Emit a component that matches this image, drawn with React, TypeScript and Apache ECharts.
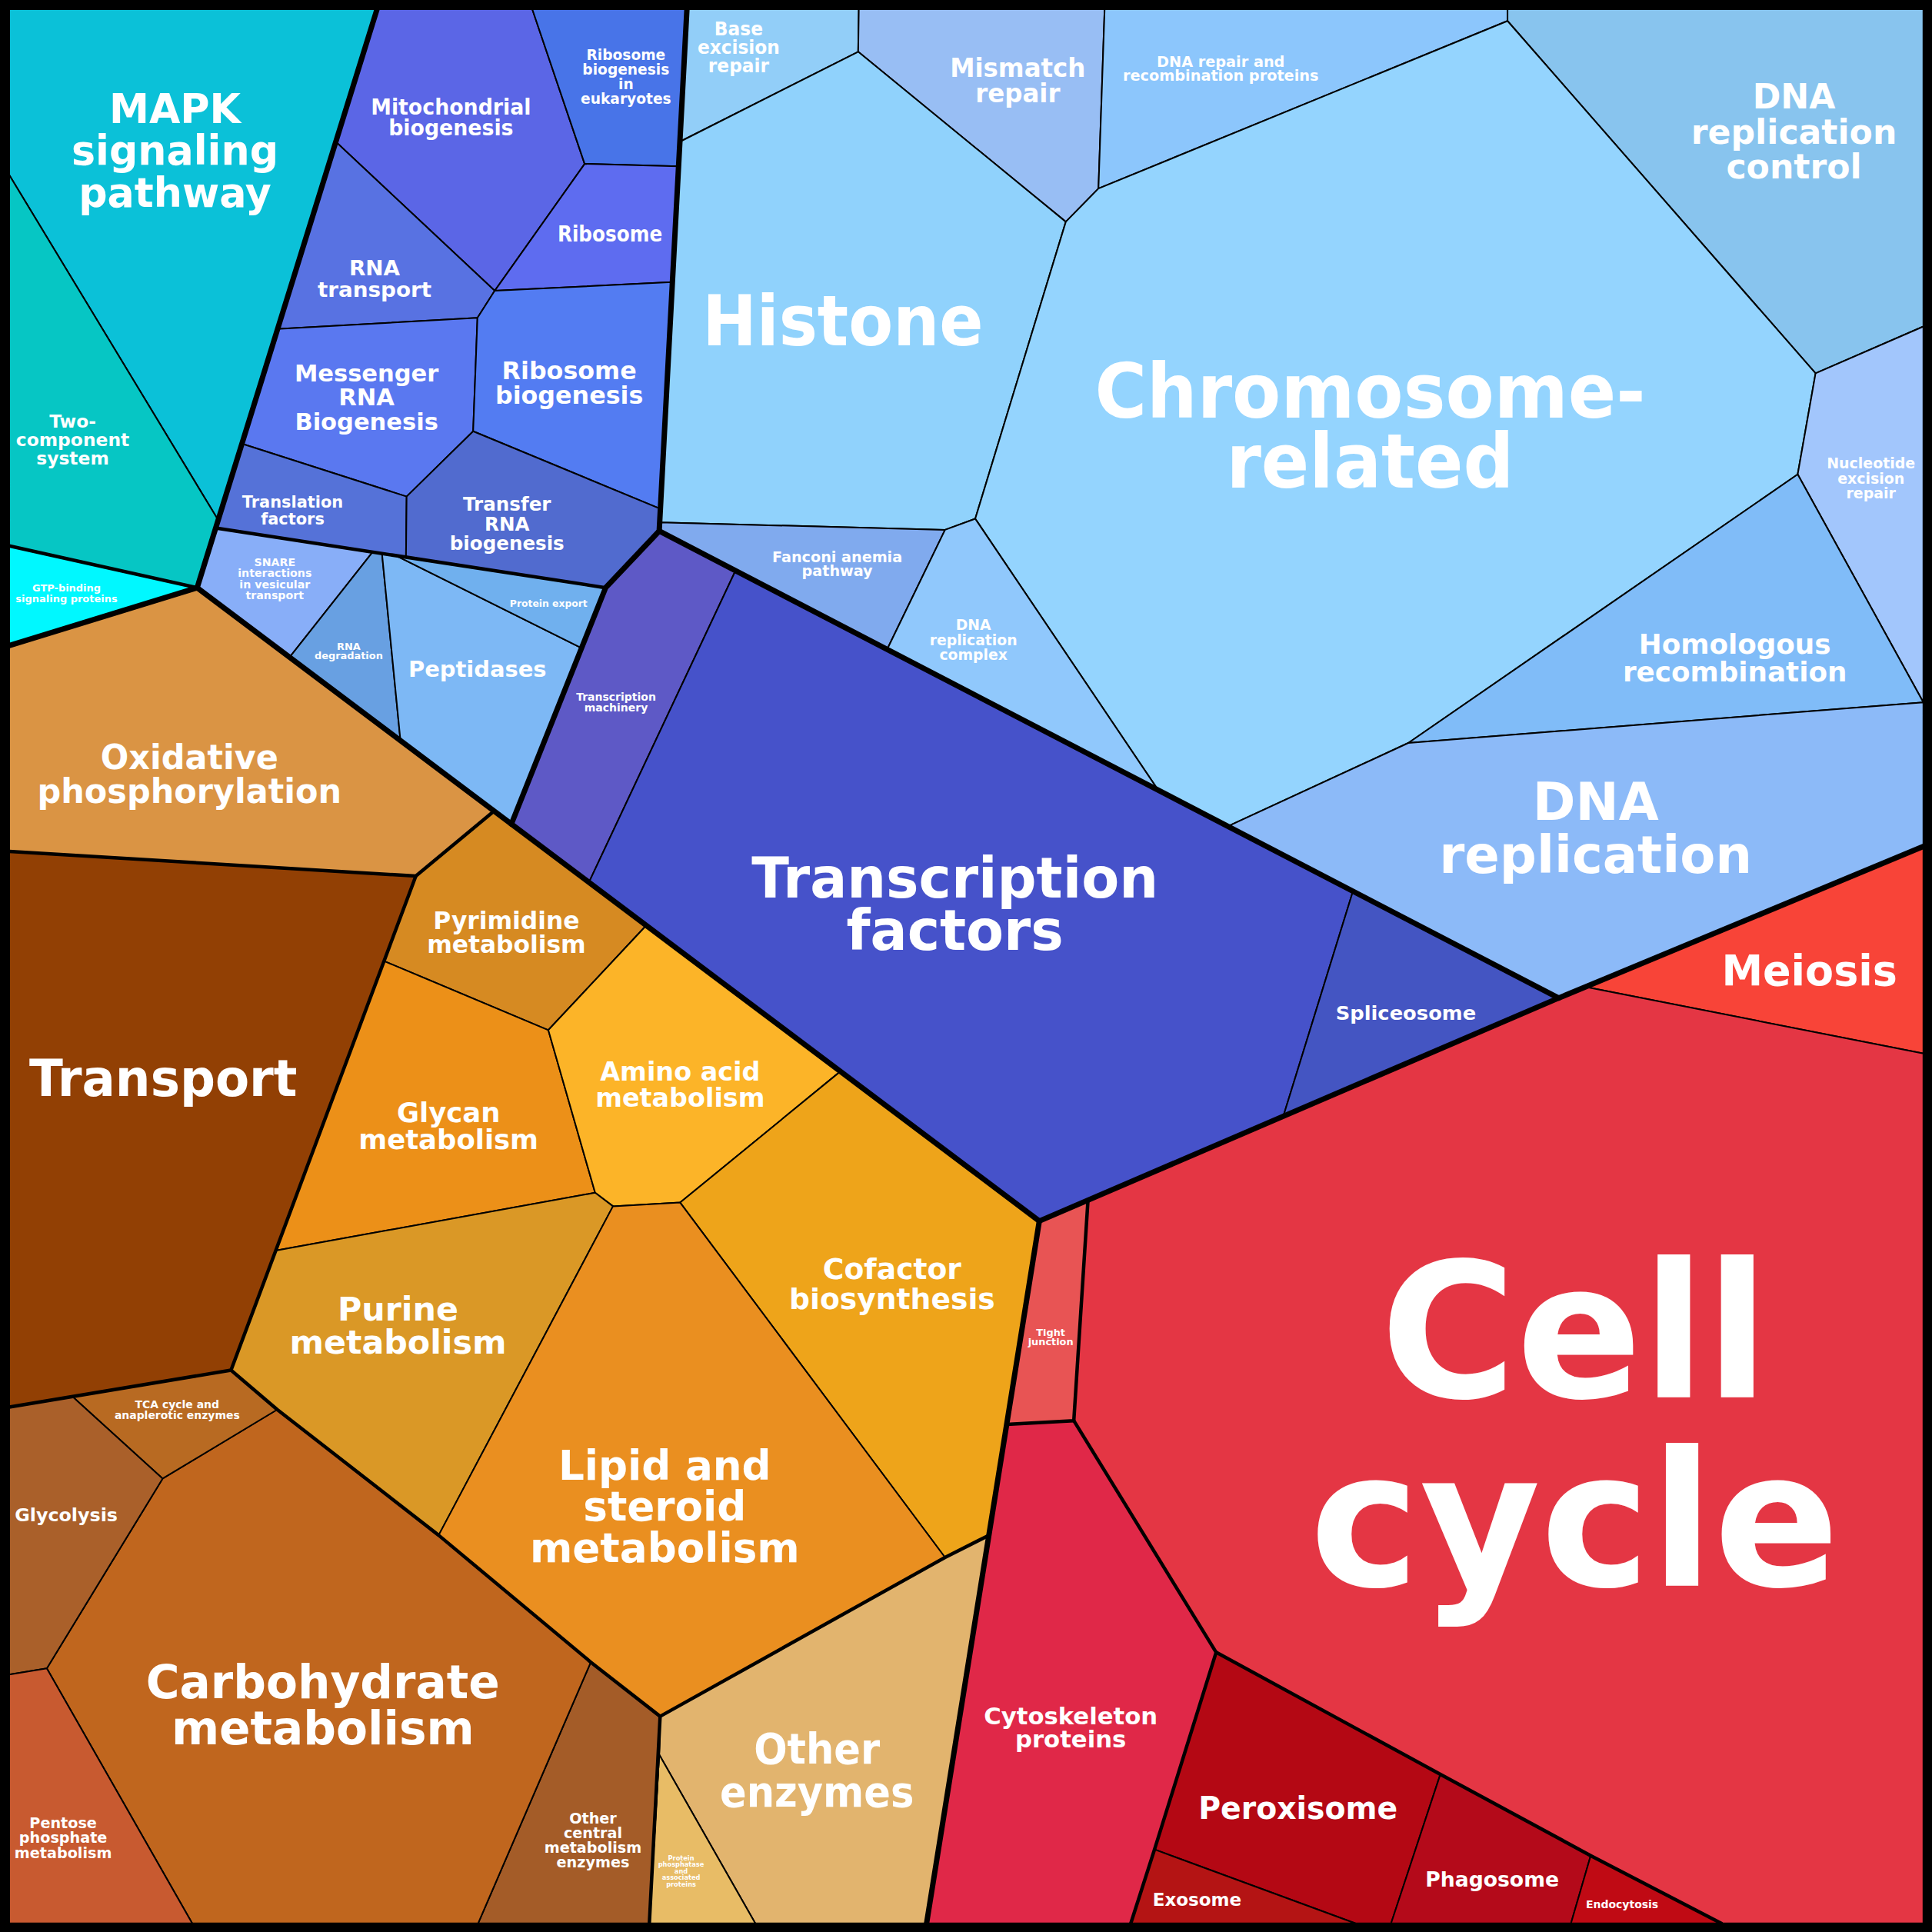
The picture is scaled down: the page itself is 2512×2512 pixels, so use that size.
import React, { useEffect, useRef } from "react";
import * as echarts from "echarts";

// Coordinate space of the map: 0..1568 on both axes (y grows downward)
const L = 7.5, T = 7.5, R = 1561, B = 1561;

const cellNames = [
  "MAPK\nsignaling\npathway", "Two-\ncomponent\nsystem", "GTP-binding\nsignaling proteins",
  "Mitochondrial\nbiogenesis", "Ribosome\nbiogenesis\nin\neukaryotes", "Ribosome", "RNA\ntransport",
  "Messenger\nRNA\nBiogenesis", "Ribosome\nbiogenesis", "Translation\nfactors", "Transfer\nRNA\nbiogenesis",
  "SNARE\ninteractions\nin vesicular\ntransport", "RNA\ndegradation", "Peptidases", "Protein export",
  "Transcription\nmachinery", "Transcription\nfactors", "Spliceosome",
  "Base\nexcision\nrepair", "Mismatch\nrepair", "DNA repair and\nrecombination proteins", "DNA\nreplication\ncontrol",
  "Histone", "Chromosome-\nrelated", "Nucleotide\nexcision\nrepair", "Fanconi anemia\npathway",
  "DNA\nreplication\ncomplex", "Homologous\nrecombination", "DNA\nreplication",
  "Meiosis", "Cell\ncycle", "Tight\njunction", "Cytoskeleton\nproteins", "Peroxisome", "Exosome", "Phagosome", "Endocytosis",
  "Oxidative\nphosphorylation", "Transport", "Pyrimidine\nmetabolism", "Glycan\nmetabolism", "Amino acid\nmetabolism",
  "Cofactor\nbiosynthesis", "Purine\nmetabolism", "Lipid and\nsteroid\nmetabolism", "Other\nenzymes",
  "Protein\nphosphatase\nand\nassociated\nproteins", "Other\ncentral\nmetabolism\nenzymes", "Carbohydrate\nmetabolism",
  "TCA cycle and\nanaplerotic enzymes", "Glycolysis", "Pentose\nphosphate\nmetabolism",
];

const cellColors = [
  "#0BC1D8", "#06C6C4", "#00F8FF",
  "#5B66E6", "#4874E8", "#5E6CF0", "#5872E2", "#5A78F0", "#537CF2", "#5572D8", "#516BCF",
  "#88AEF8", "#68A0E2", "#7DB8F5", "#70B0EE",
  "#5E59C6", "#4652CA", "#4455C2",
  "#92CEF8", "#98BEF4", "#8CC6FC", "#88C4EE", "#90D2FC", "#94D4FE", "#A2C6FC", "#80AAEE", "#90C8FC", "#80BCF8", "#8CBAF8",
  "#F84438", "#E43644", "#E85454", "#E02848", "#B40814", "#B41414", "#B40A1A", "#C00A14",
  "#DA9444", "#924004", "#D68A22", "#EC9018", "#FCB428", "#EEA41A", "#DA9826", "#EA8F20", "#E2B46E", "#E8BC66",
  "#A45C28", "#C0661E", "#B86A22", "#AA602A", "#C85A30",
];

// Cell outlines (map units)
const cellPolygons = [
  [[L, T], [306, T], [177, 422], [L, 142]],
  [[L, 142], [177, 422], [160, 477], [L, 443]],
  [[L, 443], [160, 477], [L, 524]],
  [[306, T], [432, T], [474.5, 133], [401.5, 236], [272.5, 115]],
  [[432, T], [557.5, T], [550.7, 135], [474.5, 133]],
  [[474.5, 133], [550.7, 135], [545.7, 229], [401.5, 236]],
  [[272.5, 115], [401.5, 236], [387.5, 258], [225, 267]],
  [[225, 267], [387.5, 258], [384, 350], [330, 403], [196, 360]],
  [[401.5, 236], [545.7, 229], [536, 413], [384, 350], [387.5, 258]],
  [[196, 360], [330, 403], [329.5, 452], [175, 428.5]],
  [[330, 403], [384, 350], [536, 413], [535, 431], [491.5, 477], [329.5, 452]],
  [[175, 428.5], [302.5, 448], [235, 533.4], [160, 477]],
  [[302.5, 448], [310, 449], [325, 601], [235, 533.4]],
  [[310, 449], [321, 450.7], [472, 526], [415, 668.8], [325, 601]],
  [[321, 450.7], [491.5, 477], [472, 526]],
  [[491.5, 477], [535, 431], [597, 463], [478, 716], [415, 668.8]],
  [[597, 463], [1098, 723.5], [1041.5, 906], [843.5, 991], [478, 716]],
  [[1098, 723.5], [1265, 810], [1041.5, 906]],
  [[557.5, T], [697, T], [696.5, 42], [551.8, 115]],
  [[697, T], [896.5, T], [891.5, 153], [865, 180], [696.5, 42]],
  [[896.5, T], [1223.5, T], [1223.5, 17], [891.5, 153]],
  [[1223.5, T], [R, T], [R, 265], [1473.5, 303], [1223.5, 17]],
  [[551.8, 115], [696.5, 42], [865, 180], [791.5, 421], [767, 430], [535.6, 424]],
  [[865, 180], [891.5, 153], [1223.5, 17], [1473.5, 303], [1459, 385], [1143, 603], [996.5, 670.6], [940, 641.3], [791.5, 421]],
  [[1473.5, 303], [R, 265], [R, 570], [1459, 385]],
  [[535.6, 424], [767, 430], [720, 527], [535, 431]],
  [[767, 430], [791.5, 421], [940, 641.3], [720, 527]],
  [[1143, 603], [1459, 385], [R, 570]],
  [[1143, 603], [R, 570], [R, 687], [1265, 810], [1098, 723.5], [996.5, 670.6]],
  [[1287, 801], [R, 687], [R, 855]],
  [[883, 974], [1265, 810], [1287, 801], [R, 855], [R, B], [1397, B], [1291, 1506], [1169, 1440], [987, 1341], [871.5, 1153]],
  [[843.5, 991], [883, 974], [871.5, 1153], [817, 1156]],
  [[817, 1156], [871.5, 1153], [987, 1341], [937, 1501], [917.75, B], [752, B]],
  [[987, 1341], [1169, 1440], [1129, B], [1100, B], [937, 1501]],
  [[937, 1501], [1100, B], [917.75, B]],
  [[1169, 1440], [1291, 1506], [1275, B], [1129, B]],
  [[1291, 1506], [1397, B], [1275, B]],
  [[L, 524], [160, 477], [235, 533.4], [325, 601], [401, 658.2], [337.5, 711], [L, 691]],
  [[L, 691], [337.5, 711], [311.7, 780], [223.8, 1015], [187.5, 1112], [L, 1142]],
  [[401, 658.2], [524.5, 751.1], [445, 836], [311.7, 780], [337.5, 711]],
  [[311.7, 780], [445, 836], [483, 968], [223.8, 1015]],
  [[524.5, 751.1], [682, 869.6], [552, 976], [497.5, 979], [483, 968], [445, 836]],
  [[682, 869.6], [843.5, 991], [802.6, 1246], [767, 1264], [552, 976]],
  [[223.8, 1015], [483, 968], [497.5, 979], [356, 1246], [225, 1144], [187.5, 1112]],
  [[497.5, 979], [552, 976], [767, 1264], [535.75, 1393], [479.5, 1349], [356, 1246]],
  [[535.75, 1393], [767, 1264], [802.6, 1246], [752, B], [613, B], [535, 1424]],
  [[535, 1424], [613, B], [527, B]],
  [[479.5, 1349], [535.75, 1393], [535, 1424], [527, B], [388, B]],
  [[132, 1200], [225, 1144], [356, 1246], [479.5, 1349], [388, B], [156, B], [38, 1354]],
  [[58.75, 1133.4], [187.5, 1112], [225, 1144], [132, 1200]],
  [[L, 1142], [58.75, 1133.4], [132, 1200], [38, 1354], [L, 1359]],
  [[L, 1359], [38, 1354], [156, B], [L, B]],
];

// Sub-category boundaries (medium) and top-level category boundaries (thick)
const mediumLines = [
  [[L, 443], [160, 477]],
  [[175, 428.5], [491.5, 477]],
  [[L, 691], [337.5, 711], [401, 658.2]],
  [[337.5, 711], [187.5, 1112], [L, 1142]],
  [[187.5, 1112], [225, 1144], [356, 1246], [479.5, 1349], [535.75, 1393], [527, B]],
  [[535.75, 1393], [767, 1264], [802.6, 1246]],
  [[883, 974], [871.5, 1153], [817, 1156]],
  [[871.5, 1153], [987, 1341]],
  [[917.75, B], [937, 1501], [987, 1341], [1169, 1440], [1291, 1506], [1397, B]],
];
const thickLines = [
  [[306, T], [160, 477]],
  [[L, 524], [160, 477], [843.5, 991]],
  [[557.5, T], [535, 431], [491.5, 477], [415, 668.8]],
  [[535, 431], [1265, 810], [R, 687]],
  [[1265, 810], [843.5, 991]],
  [[843.5, 991], [752, B]],
];

// Label layout: [centre x, centre y, font em, line spacing, widest line width] (map units)
const labelLayout = [
  [142, 122, 33, 34, 168], [59, 357, 14.6, 15, 92], [54, 481.5, 8.1, 8.3, 82.5],
  [366, 95.3, 17.4, 17.3, 130], [508, 62, 12, 12, 73.5], [495, 190, 17.4, 17.4, 85], [304, 226, 17, 18, 92.5],
  [297.5, 322.7, 19, 19.5, 117], [462, 311, 19.5, 19.7, 120], [237.5, 414, 13.5, 13.5, 82], [411.5, 425, 16, 16, 93],
  [223, 469.7, 9, 9.1, 60], [283, 528.5, 7.7, 7.6, 55.5], [387.5, 543.5, 17.4, 17.4, 112], [445.25, 490, 7.7, 7.7, 63],
  [500, 570, 8.5, 8.3, 64.75], [775, 734, 45, 42.5, 330], [1141, 822, 16, 16, 114],
  [599.5, 38.5, 15, 15, 66.75], [826, 65.5, 21, 21, 110], [990.75, 55.8, 12, 11.7, 159], [1456, 106.7, 28, 28.3, 167],
  [684, 260.7, 57, 57, 228], [1112, 346, 61.7, 56.7, 447], [1518.5, 388, 12, 12, 71.75], [679.5, 457.5, 11.8, 11.7, 105.5],
  [790, 519, 12, 12, 71], [1408, 534, 22, 22, 182], [1295, 672.7, 42, 43.4, 254],
  [1468.5, 788, 34, 34, 142.5], [1278, 1157.5, 153, 153, 430], [852.75, 1085, 8, 7.7, 36.75], [869, 1402.3, 19, 19.3, 141],
  [1053.5, 1467.7, 25, 25, 161.75], [971.5, 1541.7, 14.3, 14.3, 72], [1211, 1525, 16.6, 16.6, 108.5], [1316.5, 1545.3, 8.7, 8.7, 58.75],
  [153.75, 628.5, 27.5, 27.7, 247], [132.5, 875, 41, 41, 217.5], [411, 756.8, 19.5, 19.5, 129], [364, 914, 22, 22, 146],
  [552, 880.5, 21, 21.6, 137.5], [724, 1042, 23.5, 24, 167], [323, 1075.7, 26.5, 26.7, 176], [539.5, 1222.7, 33.5, 33.3, 219],
  [663, 1436.8, 34, 35, 157.5], [552.75, 1518.5, 5.3, 5.3, 37.25], [481.25, 1493.8, 12, 11.9, 79], [262, 1383.7, 38, 37.5, 287],
  [143.75, 1144.3, 8.7, 8.7, 101.5], [53.75, 1230, 14.8, 14.8, 83.5], [51.25, 1491.7, 12, 12.2, 79],
];

let measureCtx: CanvasRenderingContext2D | null = null;
function naturalWidth(lines: string[], fontPx: number): number {
  if (!measureCtx) measureCtx = document.createElement("canvas").getContext("2d");
  if (!measureCtx) return 1;
  measureCtx.font = `bold ${fontPx}px "DejaVu Sans"`;
  return Math.max(...lines.map((l) => measureCtx!.measureText(l).width));
}

function lineSeries(lines: number[][][], width: number, z: number) {
  return {
    type: "custom",
    coordinateSystem: "cartesian2d",
    z,
    silent: true,
    data: lines.map((l) => l[0]),
    renderItem: (params: any, api: any) => {
      const pts = lines[params.dataIndex].map((p) => api.coord(p));
      return {
        type: "polyline",
        shape: { points: pts },
        style: { stroke: "#000", lineWidth: width, fill: "none", lineJoin: "round", lineCap: "round" },
      };
    },
  };
}

export default function App() {
  const ref = useRef<HTMLDivElement>(null);
  useEffect(() => {
    document.body.style.margin = "0";
    document.body.style.overflow = "hidden";
    if (!ref.current) return;
    const chart = echarts.init(ref.current, undefined, { renderer: "svg" });
    chart.setOption({
      animation: false,
      backgroundColor: "#000",
      grid: { left: 0, right: 0, top: 0, bottom: 0 },
      xAxis: { type: "value", min: 0, max: 1568, show: false },
      yAxis: { type: "value", min: 0, max: 1568, inverse: true, show: false },
      series: [
        {
          type: "custom",
          coordinateSystem: "cartesian2d",
          z: 1,
          silent: true,
          data: cellNames.map((n, i) => ({ name: n, value: [labelLayout[i][0], labelLayout[i][1]] })),
          renderItem: (params: any, api: any) => {
            const i = params.dataIndex;
            const pts = cellPolygons[i].map((p) => api.coord(p));
            return {
              type: "polygon",
              shape: { points: pts },
              style: { fill: cellColors[i], stroke: "#000", lineWidth: 2, lineJoin: "round" },
            };
          },
        },
        lineSeries(mediumLines, 4.5, 2),
        lineSeries(thickLines, 7, 3),
        {
          type: "custom",
          coordinateSystem: "cartesian2d",
          z: 4,
          silent: true,
          data: cellNames.map((n, i) => ({ name: n, value: [labelLayout[i][0], labelLayout[i][1]] })),
          renderItem: (params: any, api: any) => {
            const i = params.dataIndex;
            const [cx, cy, em, sp, w] = labelLayout[i];
            const unit = Math.abs(api.size([1, 1])[0]);
            const fontPx = em * unit;
            const lines = cellNames[i].split("\n");
            const nat = naturalWidth(lines, fontPx);
            const sx = Math.min(1.08, Math.max(0.6, (w * unit) / nat));
            const p = api.coord([cx, cy]);
            return {
              type: "text",
              x: p[0],
              y: p[1],
              scaleX: sx,
              scaleY: 1,
              silent: true,
              style: {
                text: cellNames[i],
                x: 0,
                y: 0,
                align: "center",
                verticalAlign: "middle",
                font: `bold ${fontPx.toFixed(2)}px "DejaVu Sans"`,
                lineHeight: sp * unit,
                fill: "#fff",
                textShadowColor: "rgba(0,0,0,0.85)",
                textShadowOffsetX: Math.max(1, fontPx / 60),
                textShadowOffsetY: Math.max(1, fontPx / 60),
                textShadowBlur: 0,
              },
            };
          },
        },
      ],
    });
    return () => chart.dispose();
  }, []);
  return (
    <div
      ref={ref}
      style={{ position: "absolute", left: 0, top: 0, width: "2512px", height: "2512px" }}
    />
  );
}
